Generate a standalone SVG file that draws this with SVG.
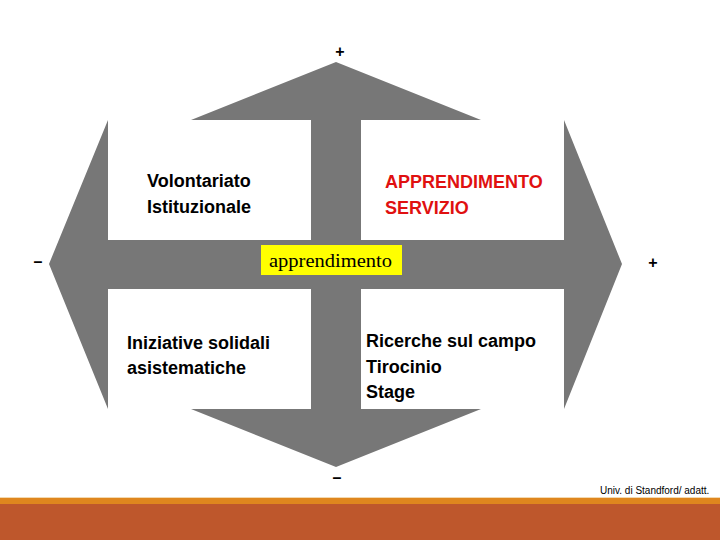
<svg xmlns="http://www.w3.org/2000/svg" width="720" height="540" viewBox="0 0 720 540">
<style>
.lbl{font-family:"Liberation Sans",Arial,sans-serif;font-size:18px;font-weight:bold;fill:#000}
.red{fill:#e01010}
.sign{font-family:"Liberation Sans",Arial,sans-serif;font-size:16px;font-weight:bold;fill:#000;text-anchor:middle}
</style>
<rect width="720" height="540" fill="#ffffff"/>
<g id="cross-arrow">
<polygon fill="#777777" points="336,62 481,120 361,120 361,240 564,240 564,120 622,264 564,409 564,289 361,289 361,409 481,409 336,467 191,409 311,409 311,289 108,289 108,409 49,264 108,120 108,240 311,240 311,120 191,120"/>
</g>
<g id="connectors"></g>
<g id="center">
<rect x="261" y="245" width="141" height="30" fill="#ffff00"/>
<text x="269" y="267" font-family="'Liberation Serif','Times New Roman',serif" font-size="18" textLength="123" lengthAdjust="spacingAndGlyphs" fill="#000">apprendimento</text>
</g>
<g id="q-top-left">
<text class="lbl" x="147" y="187">Volontariato</text>
<text class="lbl" x="147" y="213">Istituzionale</text>
</g>
<g id="q-top-right">
<text class="lbl red" x="385" y="188">APPRENDIMENTO</text>
<text class="lbl red" x="385" y="214">SERVIZIO</text>
</g>
<g id="q-bottom-left">
<text class="lbl" x="127" y="349">Iniziative solidali</text>
<text class="lbl" x="127" y="374">asistematiche</text>
</g>
<g id="q-bottom-right">
<text class="lbl" x="366" y="347">Ricerche sul campo</text>
<text class="lbl" x="366" y="373">Tirocinio</text>
<text class="lbl" x="366" y="398">Stage</text>
</g>
<g id="signs">
<text class="sign" x="340" y="57">+</text>
<text class="sign" x="653" y="268">+</text>
<text class="sign" x="38" y="267">–</text>
<text class="sign" x="337" y="483">–</text>
</g>
<g id="footer">
<rect x="0" y="497" width="720" height="1" fill="#f3d9b0"/>
<rect x="0" y="498" width="720" height="6" fill="#df861e"/>
<rect x="0" y="504" width="720" height="36" fill="#be572c"/>
<text x="600" y="494" font-family="'Liberation Sans',Arial,sans-serif" font-size="10" fill="#000">Univ. di Standford/ adatt.</text>
</g>
</svg>
